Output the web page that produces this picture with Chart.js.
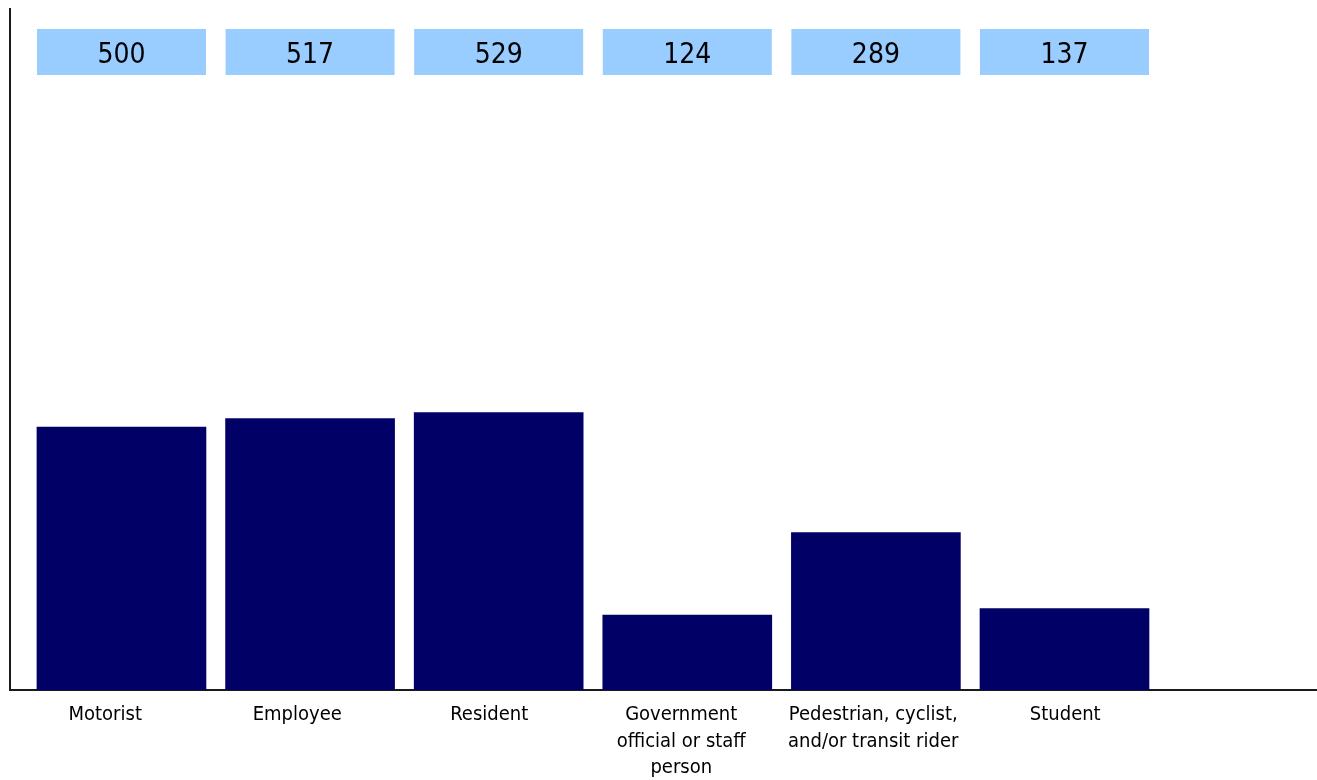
<!DOCTYPE html>
<html>
<head>
<meta charset="utf-8">
<script src="https://cdn.jsdelivr.net/npm/chart.js@4/dist/chart.umd.min.js"></script>
<style>
  html, body { margin: 0; padding: 0; background: #fff; }
  canvas { display: block; }
</style>
</head>
<body>
<canvas id="chart" width="1317" height="780"></canvas>
<script>
// categorieën en waarden
const categories = [
    'Motorist',
    'Employee',
    'Resident',
    ['Government', 'official or staff', 'person'],
    ['Pedestrian, cyclist,', 'and/or transit rider'],
    'Student'
];
const counts = [500, 517, 529, 124, 289, 137];
const positions = [0, 1, 2, 3, 4, 5];

// waardeschaal: de balken beginnen onder nul
const yMin = -26;
const yMax = 1336;

const FONT = "'DejaVu Sans Condensed', 'DejaVu Sans', sans-serif";

// tekent de lichtblauwe vakjes met de aantallen boven elke balk
const valueBoxes = {
    id: 'valueBoxes',
    afterDatasetsDraw(chart) {
        const ctx = chart.ctx;
        const area = chart.chartArea;
        const meta = chart.getDatasetMeta(0);
        ctx.save();
        meta.data.forEach((bar, i) => {
            const w = bar.width;
            ctx.fillStyle = '#99ccff';
            ctx.fillRect(bar.x - w / 2, area.top + 20, w, 46);
            ctx.fillStyle = '#000';
            ctx.font = '28px ' + FONT;
            ctx.textAlign = 'center';
            ctx.textBaseline = 'alphabetic';
            ctx.fillText(String(counts[i]), bar.x, area.top + 54);
        });
        ctx.restore();
    }
};

const ctx = document.getElementById('chart').getContext('2d');

new Chart(ctx, {
    type: 'bar',
    data: {
        datasets: [{
            data: positions.map((p, i) => ({ x: p, y: counts[i] })),
            backgroundColor: '#000066',
            borderWidth: 0,
            barThickness: 169,
            base: yMin
        }]
    },
    options: {
        responsive: false,
        animation: false,
        layout: { padding: { left: 10, right: 1, top: 9, bottom: 0 } },
        plugins: {
            legend: { display: false },
            tooltip: { enabled: false }
        },
        scales: {
            x: {
                type: 'linear',
                position: 'bottom',
                offset: false,
                min: -0.591,
                max: 6.3335,
                grid: { display: false, drawTicks: false },
                ticks: { display: false },
                border: { display: true, color: '#1a1a1a', width: 2 },
                afterFit: (axis) => { axis.height = 0; }
            },
            xl: {
                type: 'linear',
                position: 'bottom',
                offset: false,
                min: -0.496,
                max: 6.306,
                grid: { display: false, drawTicks: false },
                border: { display: false },
                afterBuildTicks: (axis) => {
                    axis.ticks = positions.map(p => ({ value: p }));
                },
                ticks: {
                    autoSkip: false,
                    maxRotation: 0,
                    padding: 12,
                    color: '#000',
                    font: { family: FONT, size: 20, lineHeight: 1.32 },
                    callback: (v) => categories[v] !== undefined ? categories[v] : ''
                },
                afterFit: (axis) => { axis.height = 90; }
            },
            y: {
                type: 'linear',
                min: yMin,
                max: yMax,
                grid: { display: false, drawTicks: false },
                ticks: { display: false },
                border: { display: true, color: '#1a1a1a', width: 2 },
                afterFit: (axis) => { axis.width = 0; }
            }
        }
    },
    plugins: [valueBoxes]
});
</script>
</body>
</html>
